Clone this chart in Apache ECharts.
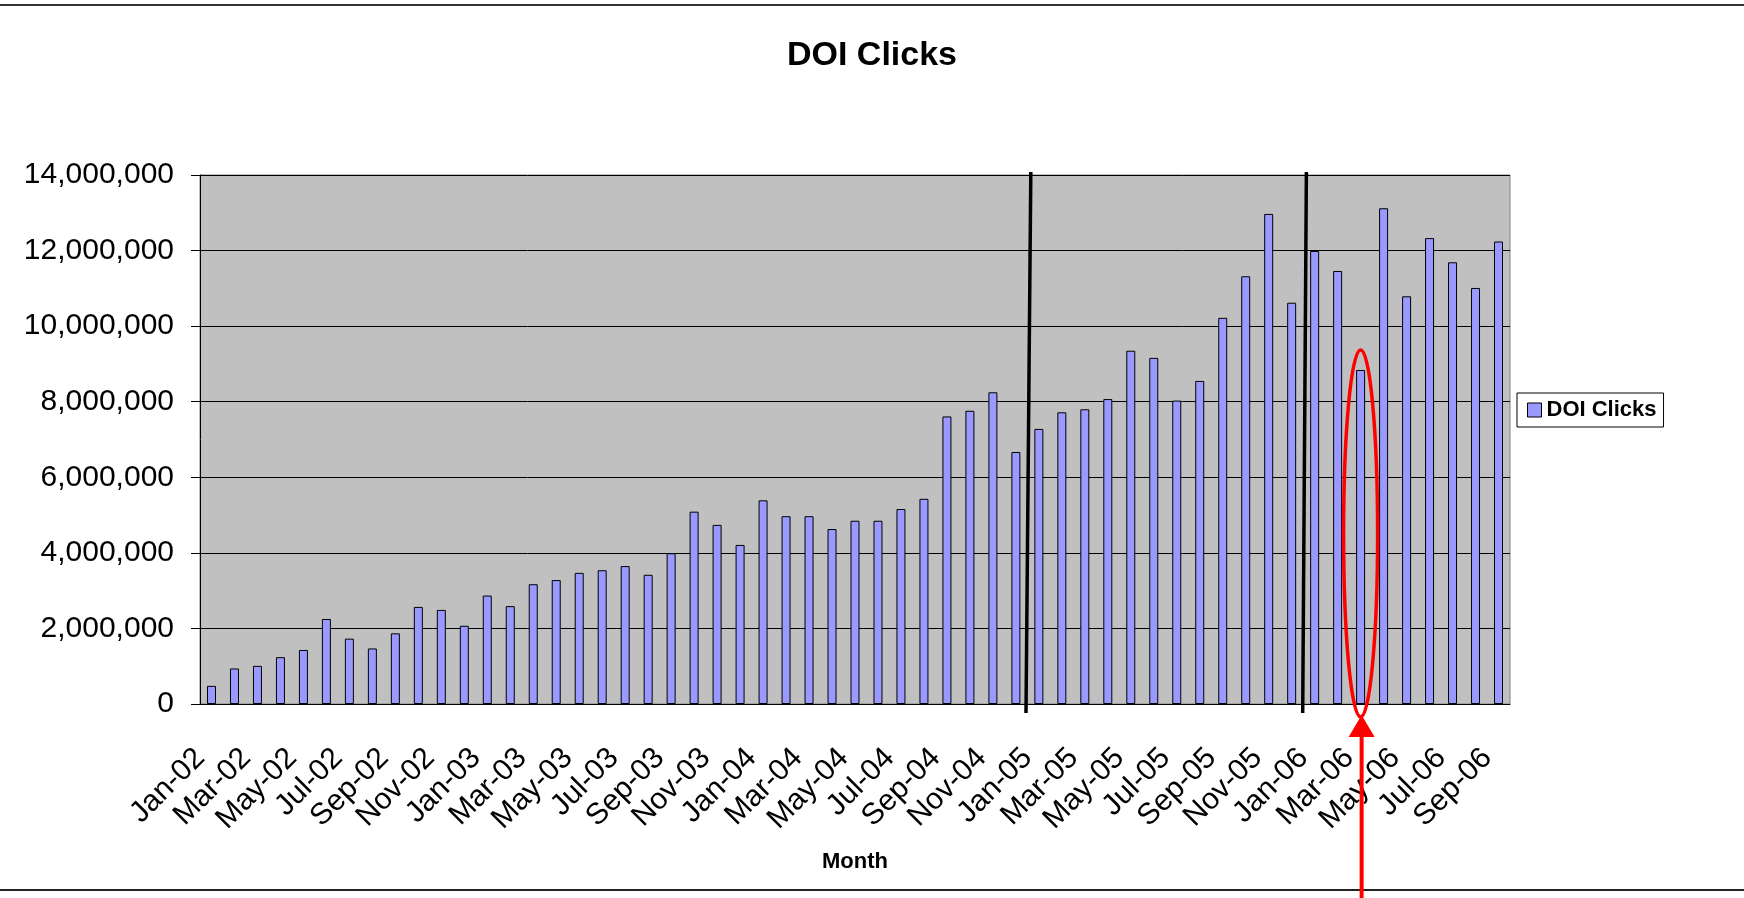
<!DOCTYPE html>
<html>
<head>
<meta charset="utf-8">
<title>DOI Clicks</title>
<script src="https://cdn.jsdelivr.net/npm/echarts@6/dist/echarts.min.js"></script>
<style>
  html, body { margin: 0; padding: 0; background: #fff; }
  #chart { width: 1744px; height: 898px; }
</style>
</head>
<body>
<div id="chart"></div>
<script>
// monthly DOI clicks
const months = [
  "Jan-02", "Feb-02", "Mar-02", "Apr-02", "May-02", "Jun-02", "Jul-02", "Aug-02", "Sep-02", "Oct-02", "Nov-02", "Dec-02",
  "Jan-03", "Feb-03", "Mar-03", "Apr-03", "May-03", "Jun-03", "Jul-03", "Aug-03", "Sep-03", "Oct-03", "Nov-03", "Dec-03",
  "Jan-04", "Feb-04", "Mar-04", "Apr-04", "May-04", "Jun-04", "Jul-04", "Aug-04", "Sep-04", "Oct-04", "Nov-04", "Dec-04",
  "Jan-05", "Feb-05", "Mar-05", "Apr-05", "May-05", "Jun-05", "Jul-05", "Aug-05", "Sep-05", "Oct-05", "Nov-05", "Dec-05",
  "Jan-06", "Feb-06", "Mar-06", "Apr-06", "May-06", "Jun-06", "Jul-06", "Aug-06", "Sep-06"
];

const clicks = [
  480000, 940000, 1010000, 1240000, 1430000, 2250000, 1730000, 1470000, 1870000, 2570000, 2490000, 2070000,
  2870000, 2590000, 3170000, 3280000, 3470000, 3540000, 3650000, 3420000, 3990000, 5090000, 4740000, 4210000,
  5390000, 4970000, 4970000, 4630000, 4850000, 4850000, 5160000, 5430000, 7610000, 7760000, 8250000, 6670000,
  7280000, 7720000, 7800000, 8070000, 9350000, 9160000, 8030000, 8550000, 10220000, 11320000, 12970000, 10620000,
  11990000, 11460000, 8840000, 13120000, 10790000, 12330000, 11690000, 11010000, 12240000
];

const yTicks = { min: 0, max: 14000000, interval: 2000000 };

// hand-drawn separators (category position, slightly slanted) and the circled month
const separators = [
  [[35.65, 14080000], [35.44, -240000]],
  [[47.64, 14080000], [47.48, -240000]]
];
const circledMonth = "Mar-06";

const FONT = "'Liberation Sans', Arial, sans-serif";

const chart = echarts.init(document.getElementById("chart"), null, { renderer: "canvas" });

const separatorSeries = separators.map((pts, i) => ({
  name: "sep" + i,
  type: "line",
  xAxisIndex: 1,
  data: pts,
  symbol: "none",
  clip: false,
  silent: true,
  z: 5,
  lineStyle: { color: "#000", width: 3.5 },
  animation: false
}));

const option = {
  animation: false,
  backgroundColor: "#fff",
  title: {
    text: "DOI Clicks",
    left: "center",
    top: 34,
    textStyle: { fontFamily: FONT, fontSize: 34, fontWeight: "bold", color: "#000" }
  },
  legend: {
    data: [{ name: "DOI Clicks", itemStyle: { color: "#9999FF", borderColor: "#000", borderWidth: 1 } }],
    left: 1517,
    top: 393,
    orient: "vertical",
    icon: "rect",
    itemWidth: 14,
    itemHeight: 14,
    padding: [6, 7, 6, 10],
    borderColor: "#000",
    borderWidth: 1,
    textStyle: { fontFamily: FONT, fontSize: 22, fontWeight: "bold", color: "#000" }
  },
  grid: {
    left: 200,
    right: 234,
    top: 175,
    bottom: 194,
    show: true,
    backgroundColor: "#C0C0C0",
    borderColor: "#808080",
    borderWidth: 1
  },
  xAxis: [
    {
      type: "category",
      data: months,
      name: "Month",
      nameLocation: "middle",
      nameGap: 147,
      nameTextStyle: { fontFamily: FONT, fontSize: 22, fontWeight: "bold", color: "#000" },
      axisLine: { onZero: false, lineStyle: { color: "#000", width: 1 } },
      axisTick: { interval: 1, length: 10, lineStyle: { color: "#000" } },
      axisLabel: {
        interval: 1,
        rotate: 45,
        margin: 38,
        padding: [0, 16, 0, 0],
        fontFamily: FONT,
        fontSize: 30,
        color: "#000"
      },
      splitLine: { show: false }
    },
    {
      type: "value",
      min: -0.5,
      max: months.length - 0.5,
      show: false,
      splitLine: { show: false }
    }
  ],
  yAxis: {
    type: "value",
    min: yTicks.min,
    max: yTicks.max,
    interval: yTicks.interval,
    axisLine: { show: true, onZero: false, lineStyle: { color: "#000", width: 1 } },
    axisTick: { show: true, length: 9, lineStyle: { color: "#000" } },
    axisLabel: {
      margin: 26,
      padding: [5, 0, 0, 0],
      fontFamily: FONT,
      fontSize: 30,
      color: "#000",
      formatter: v => v.toLocaleString("en-US")
    },
    splitLine: { show: true, lineStyle: { color: "#000", width: 1 } }
  },
  series: [
    {
      name: "DOI Clicks",
      type: "bar",
      data: clicks,
      barWidth: 9,
      itemStyle: { color: "#9999FF", borderColor: "#000", borderWidth: 1 }
    },
    ...separatorSeries
  ]
};

chart.setOption(option);

// red ellipse + arrow around the circled month, placed from the axes
const idx = months.indexOf(circledMonth);
const basePt = chart.convertToPixel({ seriesIndex: 0 }, [circledMonth, 0]);
const barTop = chart.convertToPixel({ seriesIndex: 0 }, [circledMonth, clicks[idx]]);
const ellTop = barTop[1] - 20;
const ellBottom = basePt[1] + 13;
const cx = basePt[0];
const tipY = basePt[1] + 11;
const H = chart.getHeight();
const W = chart.getWidth();

chart.setOption({
  graphic: [
    {
      type: "line",
      shape: { x1: 0, y1: 5, x2: W, y2: 5 },
      style: { stroke: "#333", lineWidth: 2 },
      silent: true
    },
    {
      type: "line",
      shape: { x1: 0, y1: 890, x2: W, y2: 890 },
      style: { stroke: "#222", lineWidth: 2 },
      silent: true
    },
    {
      type: "ellipse",
      shape: { cx: cx, cy: (ellTop + ellBottom) / 2, rx: 17, ry: (ellBottom - ellTop) / 2 },
      style: { fill: null, stroke: "#FF0000", lineWidth: 3.5 },
      z: 100,
      silent: true
    },
    {
      type: "line",
      shape: { x1: cx + 1, y1: tipY + 18, x2: cx + 1, y2: H },
      style: { stroke: "#FF0000", lineWidth: 4 },
      z: 100,
      silent: true
    },
    {
      type: "polygon",
      shape: { points: [[cx + 1, tipY], [cx + 1 - 13, tipY + 22], [cx + 1 + 13, tipY + 22]] },
      style: { fill: "#FF0000" },
      z: 100,
      silent: true
    }
  ]
});
</script>
</body>
</html>
